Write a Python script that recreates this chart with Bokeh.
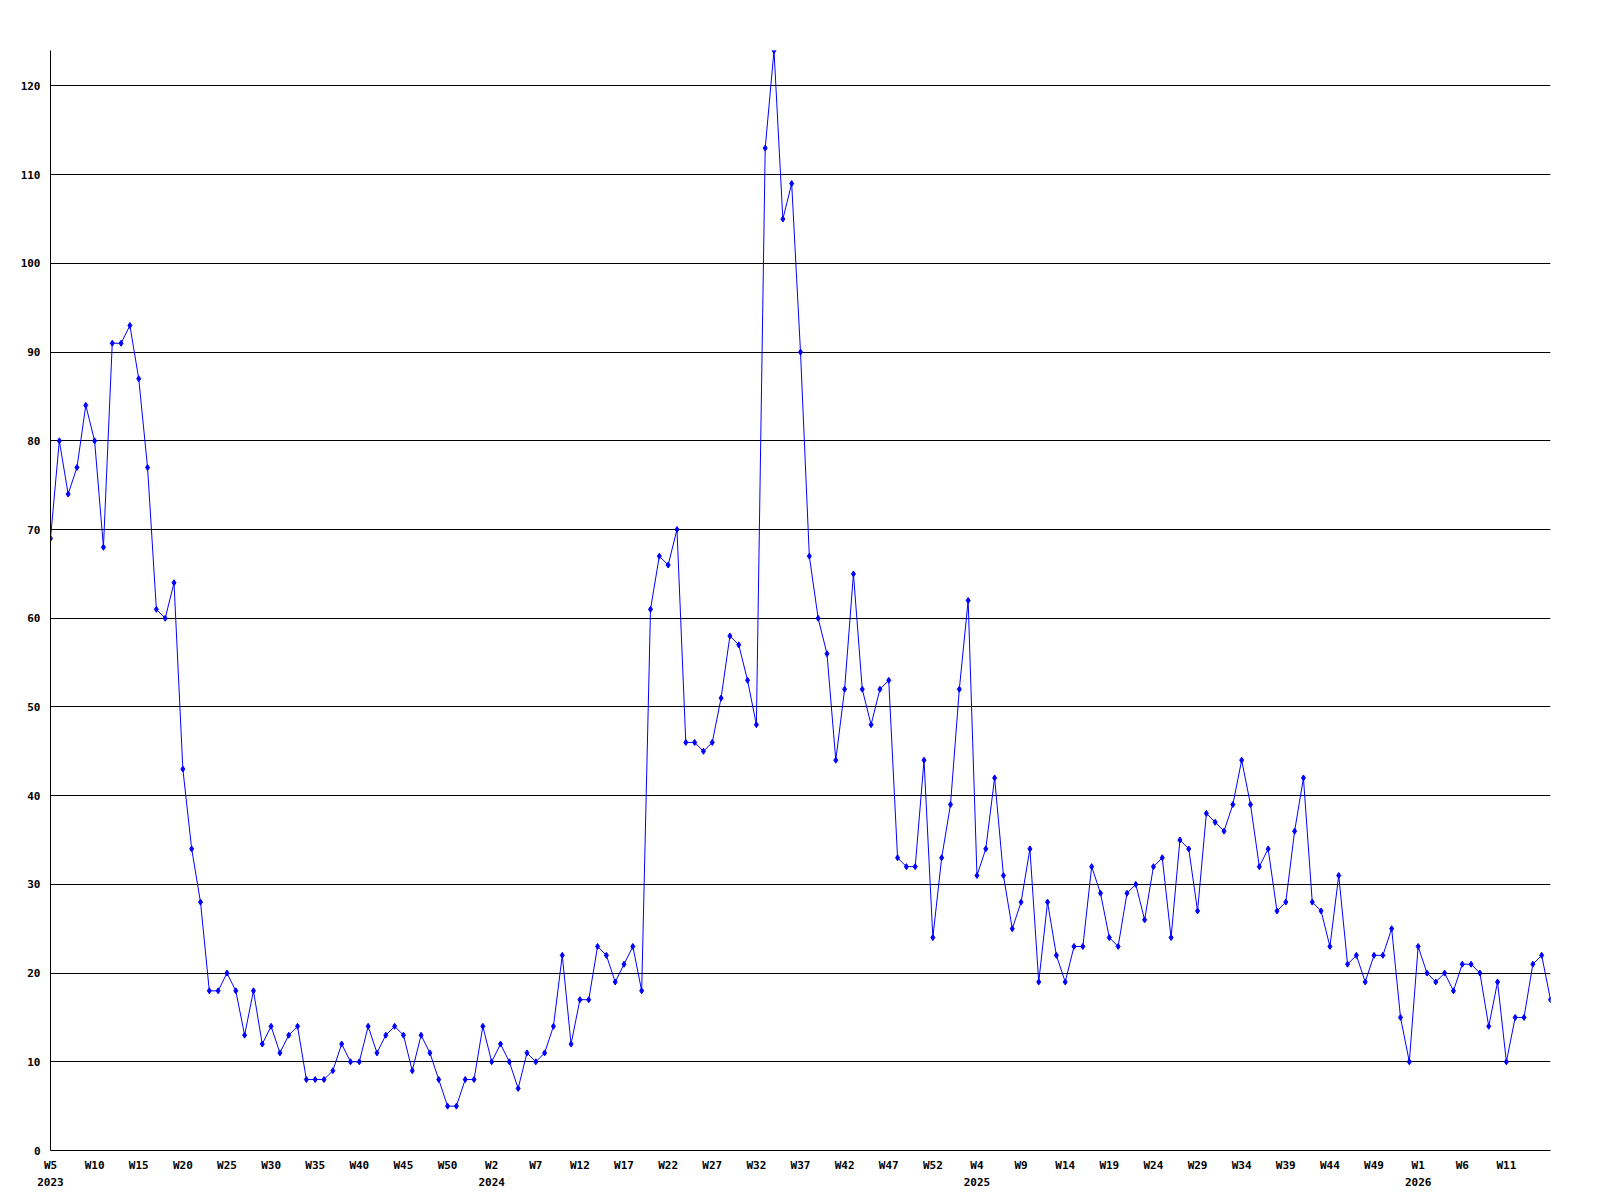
from bokeh.plotting import figure
from bokeh.models import FixedTicker, Range1d
from bokeh.embed import file_html
from bokeh.resources import INLINE

# Weekly counts (weeks as labelled on the chart)
values_2023 = [69, 80, 74, 77, 84, 80, 68, 91, 91, 93, 87, 77, 61, 60, 64, 43, 34, 28, 18, 18,
               20, 18, 13, 18, 12, 14, 11, 13, 14, 8, 8, 8, 9, 12, 10, 10, 14, 11, 13, 14,
               13, 9, 13, 11, 8, 5, 5, 8, 8]
values_2024 = [14, 10, 12, 10, 7, 11, 10, 11, 14, 22, 12, 17, 17, 23, 22, 19, 21, 23, 18, 61,
               67, 66, 70, 46, 46, 45, 46, 51, 58, 57, 53, 48, 113, 124, 105, 109, 90, 67, 60, 56,
               44, 52, 65, 52, 48, 52, 53, 33, 32, 32, 44, 24, 33]
values_2025 = [39, 52, 62, 31, 34, 42, 31, 25, 28, 34, 19, 28, 22, 19, 23, 23, 32, 29, 24, 23,
               29, 30, 26, 32, 33, 24, 35, 34, 27, 38, 37, 36, 39, 44, 39, 32, 34, 27, 28, 36,
               42, 28, 27, 23, 31, 21, 22, 19, 22, 22, 25, 15, 10]
values_2026 = [23, 20, 19, 20, 18, 21, 21, 20, 14, 19, 10, 15, 15, 21, 22, 17]

tick_labels = ["W5\n2023", "W10", "W15", "W20", "W25", "W30", "W35", "W40", "W45", "W50",
               "W2\n2024", "W7", "W12", "W17", "W22", "W27", "W32", "W37", "W42", "W47", "W52",
               "W4\n2025", "W9", "W14", "W19", "W24", "W29", "W34", "W39", "W44", "W49",
               "W1\n2026", "W6", "W11"]
y_ticks = [0, 10, 20, 30, 40, 50, 60, 70, 80, 90, 100, 110, 120]

counts = values_2023 + values_2024 + values_2025 + values_2026
xs = list(range(len(counts)))
tick_pos = [5 * i for i in range(len(tick_labels))]

FONT = "DejaVu Sans Mono"

p = figure(width=1592, height=1192, output_backend="svg", toolbar_location=None,
           x_range=Range1d(0, len(counts) - 1), y_range=Range1d(0, max(counts)),
           min_border_left=50, min_border_right=42, min_border_top=50, min_border_bottom=42)
p.outline_line_color = None
p.background_fill_color = "white"
p.border_fill_color = "white"

p.line(xs, counts, line_color="#0000ff", line_width=1)
p.scatter(xs, counts, marker="diamond", size=6, fill_color="#0000ff", line_color="#0000ff")

p.xaxis.ticker = FixedTicker(ticks=tick_pos)
p.xaxis.major_label_overrides = {t: l for t, l in zip(tick_pos, tick_labels)}
p.yaxis.ticker = FixedTicker(ticks=y_ticks)

for ax in (p.xaxis, p.yaxis):
    ax.axis_line_color = "black"
    ax.axis_line_width = 1
    ax.major_tick_line_color = None
    ax.minor_tick_line_color = None
    ax.major_tick_out = 0
    ax.major_tick_in = 0
    ax.major_label_text_font = FONT
    ax.major_label_text_font_style = "bold"
    ax.major_label_text_font_size = "11px"
    ax.major_label_text_color = "black"

p.xaxis.major_label_standoff = 8
p.xaxis.major_label_text_line_height = 1.35
p.yaxis.major_label_standoff = 10

p.xgrid.grid_line_color = None
p.ygrid.grid_line_color = "black"
p.ygrid.grid_line_width = 1

open("out.html", "w").write(file_html(p, INLINE))
